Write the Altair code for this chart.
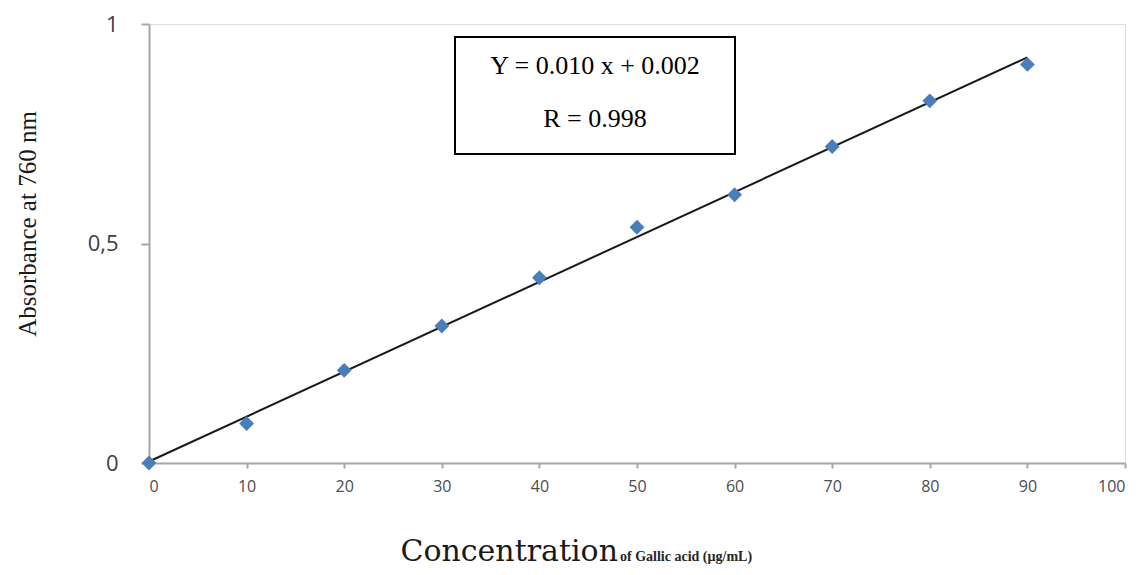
import altair as alt
import pandas as pd

conc = [0, 10, 20, 30, 40, 50, 60, 70, 80, 90]
absorb = [0.0, 0.09, 0.211, 0.312, 0.422, 0.537, 0.611, 0.721, 0.825, 0.908]
x_ticks = [0, 10, 20, 30, 40, 50, 60, 70, 80, 90, 100]
y_ticks = [0, 0.5, 1]
eq_lines = ["Y = 0.010 x + 0.002", "R = 0.998"]
eq_pos = [42, 95]

df = pd.DataFrame({"x": conc, "y": absorb})

W, H = 976, 439

xs = alt.Scale(domain=[0, 100], nice=False)
ys = alt.Scale(domain=[0, 1], nice=False)

base = alt.Chart(df)

x_enc = alt.X("x:Q", scale=xs, axis=alt.Axis(
    values=x_ticks, title=None, grid=False, domainColor="#a6a6a6", domainWidth=2,
    tickColor="#a6a6a6", tickWidth=2, tickSize=5, labelFont="Open Sans",
    labelFontSize=16, labelColor="#4d4d4d", labelPadding=10))
y_enc = alt.Y("y:Q", scale=ys, axis=alt.Axis(
    values=y_ticks, title=None, grid=False, domainColor="#a6a6a6", domainWidth=2,
    tickColor="#a6a6a6", tickWidth=2, tickSize=8, labelFont="Open Sans",
    labelFontSize=22, labelColor="#404040", labelPadding=23,
    labelExpr="replace(format(datum.value, ''), '.', ',')"))

fit = base.transform_regression("x", "y", extent=[0, 90]).mark_line(
    color="#1a1a1a", strokeWidth=2).encode(x=x_enc, y=y_enc)

pts = base.mark_point(shape="diamond", filled=True, color="#4a7ebb", size=220,
                      opacity=1).encode(x="x:Q", y="y:Q")

box = alt.Chart(pd.DataFrame({"a": [0]})).mark_rect(
    fill="white", stroke="black", strokeWidth=2).encode(
    x=alt.value(306), x2=alt.value(586), y=alt.value(13), y2=alt.value(130))

eq_df = pd.DataFrame({"t": eq_lines, "py": eq_pos})
eq = alt.Chart(eq_df).mark_text(font="Liberation Serif", fontSize=26,
                                color="black", align="center", baseline="middle").encode(
    text="t:N", x=alt.value(446), y=alt.Y("py:Q", scale=None, axis=None))

ytitle = alt.Chart(pd.DataFrame({"t": ["Absorbance at 760 nm"]})).mark_text(
    font="Liberation Serif", fontSize=25, color="#1a1a1a", angle=270,
    align="center", baseline="middle").encode(
    text="t:N", x=alt.value(-121), y=alt.value(200))

xt1 = alt.Chart(pd.DataFrame({"t": ["Concentration"]})).mark_text(
    font="DejaVu Serif", fontSize=30, color="#1a1a1a", align="right",
    baseline="alphabetic").encode(text="t:N", x=alt.value(469), y=alt.value(537))
xt2 = alt.Chart(pd.DataFrame({"t": ["of Gallic acid (µg/mL)"]})).mark_text(
    font="Liberation Serif", fontSize=14, fontWeight="bold", color="#262626",
    align="left", baseline="alphabetic").encode(
    text="t:N", x=alt.value(471), y=alt.value(537))

chart = alt.layer(fit, pts, box, eq, ytitle, xt1, xt2).properties(
    width=W, height=H,
    autosize=alt.AutoSizeParams(type="none"),
    padding={"left": 141, "top": 16, "right": 10, "bottom": 112},
).configure_view(stroke=None).configure(background="white")

chart.save("out.html", embed_options={"renderer": "svg", "actions": False})
